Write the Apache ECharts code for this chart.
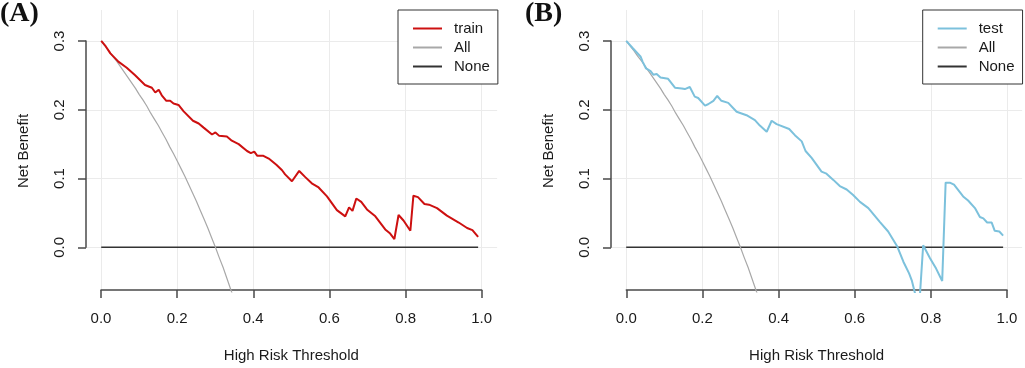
<!DOCTYPE html>
<html>
<head>
<meta charset="utf-8">
<script src="https://cdn.jsdelivr.net/npm/echarts@6/dist/echarts.min.js"></script>
<style>
html,body{margin:0;padding:0;background:#fff;}
#chart{width:1025px;height:368px;}
</style>
</head>
<body>
<div id="chart"></div>
<script>
// ---- Data ----
const panelTitles = ['(A)', '(B)'];
const xTickLabels = ['0.0', '0.2', '0.4', '0.6', '0.8', '1.0'];
const yTickLabels = ['0.0', '0.1', '0.2', '0.3'];

const trainX = [0.000,0.012,0.024,0.045,0.067,0.089,0.115,0.133,0.142,0.151,0.159,0.171,0.181,0.190,0.203,0.216,0.241,0.256,0.269,0.291,0.300,0.310,0.330,0.343,0.361,0.383,0.393,0.402,0.410,0.426,0.440,0.460,0.475,0.483,0.501,0.520,0.536,0.553,0.571,0.593,0.619,0.641,0.651,0.660,0.670,0.683,0.698,0.720,0.746,0.759,0.770,0.781,0.794,0.812,0.820,0.832,0.849,0.861,0.882,0.908,0.939,0.961,0.975,0.990];
const trainY = [0.300,0.292,0.282,0.270,0.261,0.250,0.236,0.232,0.225,0.229,0.221,0.213,0.213,0.209,0.207,0.198,0.184,0.180,0.174,0.164,0.167,0.162,0.161,0.155,0.150,0.140,0.137,0.139,0.133,0.133,0.129,0.120,0.112,0.106,0.096,0.111,0.102,0.093,0.087,0.074,0.054,0.045,0.058,0.053,0.071,0.066,0.055,0.045,0.026,0.020,0.012,0.047,0.039,0.024,0.075,0.073,0.063,0.062,0.057,0.046,0.036,0.028,0.025,0.015];

const testX = [0.000,0.018,0.038,0.043,0.052,0.064,0.071,0.080,0.090,0.110,0.128,0.146,0.154,0.167,0.180,0.189,0.207,0.215,0.229,0.239,0.250,0.268,0.290,0.316,0.338,0.351,0.369,0.382,0.395,0.428,0.443,0.461,0.471,0.487,0.513,0.526,0.544,0.561,0.579,0.596,0.614,0.636,0.666,0.688,0.712,0.728,0.743,0.750,0.760,0.770,0.780,0.798,0.814,0.830,0.839,0.850,0.861,0.885,0.898,0.916,0.929,0.938,0.948,0.960,0.968,0.980,0.990];
const testY = [0.300,0.289,0.277,0.270,0.260,0.256,0.251,0.252,0.247,0.245,0.232,0.231,0.230,0.233,0.219,0.217,0.206,0.208,0.213,0.220,0.213,0.210,0.197,0.192,0.185,0.177,0.168,0.184,0.179,0.172,0.163,0.154,0.140,0.130,0.110,0.107,0.098,0.089,0.084,0.076,0.066,0.057,0.037,0.023,0.001,-0.021,-0.038,-0.048,-0.070,-0.082,0.003,-0.016,-0.031,-0.049,0.094,0.094,0.091,0.074,0.068,0.057,0.044,0.042,0.036,0.036,0.024,0.023,0.017];

const allX = [0.00,0.01,0.02,0.03,0.04,0.05,0.06,0.07,0.08,0.09,0.10,0.11,0.12,0.13,0.14,0.15,0.16,0.17,0.18,0.19,0.20,0.21,0.22,0.23,0.24,0.25,0.26,0.27,0.28,0.29,0.30,0.31,0.32,0.33,0.34,0.35,0.36];
const allY = [0.300,0.293,0.286,0.278,0.271,0.263,0.255,0.247,0.239,0.231,0.222,0.214,0.205,0.195,0.186,0.177,0.167,0.157,0.146,0.136,0.125,0.114,0.103,0.091,0.079,0.067,0.054,0.041,0.028,0.014,0.000,-0.015,-0.029,-0.045,-0.061,-0.077,-0.094];

const noneX = [0.00, 0.99];
const noneY = [0.00, 0.00];

// ---- helpers ----
const pairs = (xs, ys) => xs.map((x, i) => [x, ys[i]]);
const FONT = 'Liberation Sans';
const TXT = '#1a1a1a';
const AXC = '#4a4a4a';
const GRIDC = '#ebebeb';
const fmtX = v => xTickLabels[Math.round(v / 0.2)];
const fmtY = v => yTickLabels[Math.round(v / 0.1)];

const panels = [
  {dataLeft: 86,  zeroX: 101,   label: 'train', color: '#cd1010', xs: trainX, ys: trainY, titleLeft: 0,   legendLeft: 398},
  {dataLeft: 611, zeroX: 626.3, label: 'test',  color: '#7cc1dc', xs: testX,  ys: testY,  titleLeft: 525, legendLeft: 922.7}
];
const unitW = 380.7;
const TOP = 10, BOTTOM = 292;     // plot region
const Y03 = 41, Y00 = 247.3;      // pixel rows of 0.3 and 0.0

const grid = [], xAxis = [], yAxis = [], series = [], legend = [], title = [];

panels.forEach((p, k) => {
  const g = k * 3;
  grid.push({left: p.dataLeft, top: TOP, width: 1.08 * unitW, height: BOTTOM - TOP});
  grid.push({left: p.zeroX, top: TOP, width: unitW, height: BOTTOM - TOP});
  grid.push({left: p.dataLeft, top: Y03, width: 1.08 * unitW, height: Y00 - Y03});

  xAxis.push({gridIndex: g, type: 'value', min: -0.04, max: 1.04, show: false});
  yAxis.push({gridIndex: g, type: 'value', min: -0.065, max: 0.345,
    name: 'Net Benefit', nameLocation: 'middle', nameGap: 55,
    nameTextStyle: {fontFamily: FONT, fontSize: 15, color: TXT},
    axisLine: {show: false}, axisTick: {show: false}, axisLabel: {show: false}, splitLine: {show: false}});

  xAxis.push({gridIndex: g + 1, type: 'value', min: 0, max: 1, interval: 0.2,
    name: 'High Risk Threshold', nameLocation: 'middle', nameGap: 58,
    nameTextStyle: {fontFamily: FONT, fontSize: 15, color: TXT},
    axisLine: {show: true, lineStyle: {color: AXC, width: 1.5}},
    axisTick: {show: true, inside: false, length: 8, lineStyle: {color: AXC, width: 1.5}},
    axisLabel: {show: true, margin: 21, fontFamily: FONT, fontSize: 15, color: TXT, formatter: fmtX},
    splitLine: {show: true, lineStyle: {color: GRIDC, width: 1}}});
  yAxis.push({gridIndex: g + 1, type: 'value', min: 0, max: 1, show: false});

  xAxis.push({gridIndex: g + 2, type: 'value', min: 0, max: 1, show: false});
  yAxis.push({gridIndex: g + 2, type: 'value', min: 0, max: 0.3, interval: 0.1,
    axisLine: {show: true, lineStyle: {color: AXC, width: 1.5}},
    axisTick: {show: true, inside: false, length: 8, lineStyle: {color: AXC, width: 1.5}},
    axisLabel: {show: true, margin: 19, rotate: 90, fontFamily: FONT, fontSize: 15, color: TXT, formatter: fmtY},
    splitLine: {show: true, lineStyle: {color: GRIDC, width: 1}}});

  series.push({name: 'None', type: 'line', xAxisIndex: g, yAxisIndex: g, data: pairs(noneX, noneY),
    symbol: 'circle', showSymbol: false, lineStyle: {color: '#333333', width: 1.5}, itemStyle: {color: '#333333'}, z: 3});
  series.push({name: 'All', type: 'line', xAxisIndex: g, yAxisIndex: g, data: pairs(allX, allY),
    symbol: 'circle', showSymbol: false, lineStyle: {color: '#a8a8a8', width: 1.2}, itemStyle: {color: '#a8a8a8'}, z: 3, clip: true});
  series.push({name: p.label, type: 'line', xAxisIndex: g, yAxisIndex: g, data: pairs(p.xs, p.ys),
    symbol: 'circle', showSymbol: false, lineStyle: {color: p.color, width: 2}, itemStyle: {color: p.color}, z: 4, clip: true});

  legend.push({left: p.legendLeft, top: TOP, orient: 'vertical',
    data: [p.label, 'All', 'None'],
    itemWidth: 29, itemHeight: 14, itemGap: 4,
    padding: [11, 8, 10, 14],
    itemStyle: {opacity: 0, borderWidth: 0},
    borderColor: '#333333', borderWidth: 1, borderRadius: 0, backgroundColor: '#ffffff',
    selectedMode: false,
    textStyle: {fontFamily: FONT, fontSize: 15, color: TXT, lineHeight: 15, padding: [0, 0, 0, 7]}});

  title.push({text: panelTitles[k], left: p.titleLeft, top: 0, padding: 0,
    textStyle: {fontFamily: 'Liberation Serif', fontWeight: 'bold', fontSize: 28, color: '#111'}});
});

const chart = echarts.init(document.getElementById('chart'), null, {renderer: 'canvas'});
chart.setOption({
  animation: false,
  backgroundColor: '#ffffff',
  title, grid, xAxis, yAxis, legend, series
});
</script>
</body>
</html>
